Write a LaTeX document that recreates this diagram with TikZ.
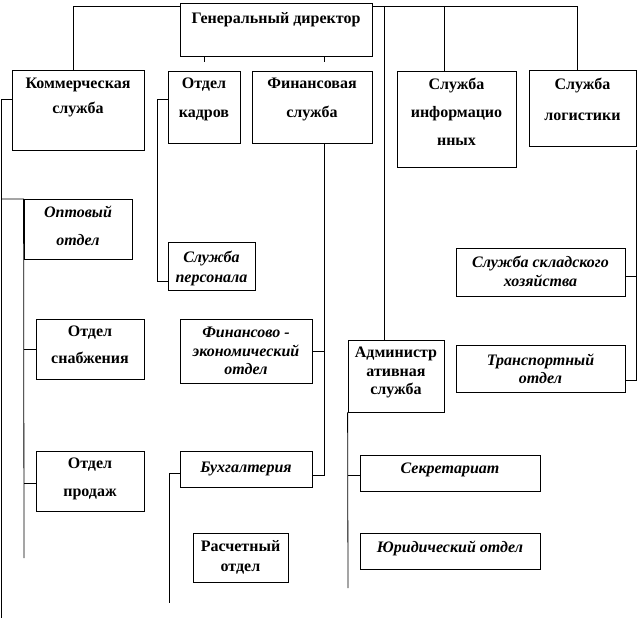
\documentclass[tikz,border=0pt]{standalone}
\usepackage{fontspec}
\setmainfont{Liberation Serif}
\begin{document}
\begin{tikzpicture}[x=1pt,y=-1pt,
  box/.style={draw, fill=white, line width=0.8pt, inner sep=0pt},
  ln/.style={line width=0.8pt},
  tb/.style={anchor=north, align=center, inner sep=0pt, font=\fontsize{16}{#1}\selectfont\bfseries},
  ti/.style={anchor=north, align=center, inner sep=0pt, font=\fontsize{16}{#1}\selectfont\bfseries\itshape}]
\useasboundingbox[fill=white] (0,0) rectangle (640,618);
% boxes
\node[box, minimum width=192pt, minimum height=53pt] (gd) at (276,29.5) {};
\node[box, minimum width=132pt, minimum height=80pt] (kom) at (78,110) {};
\node[box, minimum width=72pt, minimum height=72pt] (kad) at (204,107) {};
\node[box, minimum width=120pt, minimum height=72pt] (fin) at (312,107) {};
\node[box, minimum width=119pt, minimum height=96pt] (inf) at (456.5,119) {};
\node[box, minimum width=107pt, minimum height=76pt] (log) at (582.5,108) {};
\node[box, minimum width=108pt, minimum height=60pt] (opt) at (78,229) {};
\node[box, minimum width=87pt, minimum height=48pt] (pers) at (211.5,266) {};
\node[box, minimum width=108pt, minimum height=60pt] (snab) at (90,349) {};
\node[box, minimum width=132pt, minimum height=64pt] (fe) at (246,351) {};
\node[box, minimum width=96pt, minimum height=72pt] (adm) at (396,376) {};
\node[box, minimum width=169pt, minimum height=48pt] (sklad) at (540.5,272) {};
\node[box, minimum width=169pt, minimum height=47pt] (trans) at (540.5,368.5) {};
\node[box, minimum width=108pt, minimum height=60pt] (prod) at (90,481) {};
\node[box, minimum width=132pt, minimum height=36pt] (buh) at (246,469) {};
\node[box, minimum width=180pt, minimum height=36pt] (sec) at (450,473) {};
\node[box, minimum width=95pt, minimum height=49pt] (ras) at (240.5,557.5) {};
\node[box, minimum width=180pt, minimum height=36pt] (yur) at (450,551) {};
% texts
\node[tb=20] (gdt) at (276,12.5) {Генеральный директор};
\node[tb=25] (komt) at (78,78) {Коммерческая\\служба};
\node[tb=29] (kadt) at (204,78) {Отдел\\кадров};
\node[tb=29] (fint) at (312,78) {Финансовая\\служба};
\node[tb=28] (inft) at (456.5,78) {Служба\\информацио\\нных};
\node[tb=31] (logt) at (582.5,78) {Служба\\логистики};
\node[ti=28] (optt) at (78,206) {Оптовый\\отдел};
\node[ti=20] (perst) at (211.5,251) {Служба\\персонала};
\node[tb=27] (snabt) at (90,326) {Отдел\\снабжения};
\node[ti=18.5] (fet) at (246,327) {Финансово -\\экономический\\отдел};
\node[tb=18.5] (admt) at (396,347) {Администр\\ативная\\служба};
\node[ti=19] (skladt) at (540.5,256) {Служба складского\\хозяйства};
\node[ti=18] (transt) at (540.5,354) {Транспортный\\отдел};
\node[tb=28] (prodt) at (90,458) {Отдел\\продаж};
\node[ti=20] (buht) at (246,462) {Бухгалтерия};
\node[ti=20] (sect) at (450,463) {Секретариат};
\node[tb=20] (rast) at (240.5,540) {Расчетный\\отдел};
\node[ti=20] (yurt) at (450,541) {Юридический отдел};
% connectors
\coordinate (t1) at (73,6);
\coordinate (t2) at (384,6);
\coordinate (t3) at (444,6);
\coordinate (t4) at (577,6);
\draw[ln] (kom.north -| t1) -- (t1) -- (t1 -| gd.west);
\draw[ln] (t1 -| gd.east) -- (t4) -- (t4 |- log.north);
\draw[ln] (t3) -- (t3 |- inf.north);
\draw[ln] (t2) -- (t2 |- adm.north);
\coordinate (g1) at (204,62);
\coordinate (g2) at (324,62);
\draw[ln] (g1 |- gd.south) -- (g1);
\draw[ln] (g2 |- gd.south) -- (g2);
\coordinate (k1) at (1,99);
\coordinate (k2) at (1,618);
\draw[ln] (k1 -| kom.west) -- (k1) -- (k2);
\coordinate (o1) at (1,199);
\coordinate (o2) at (24,558);
\draw[ln] (o1) -- (o1 -| opt.west) -- (o2);
\draw[ln] (snab.west -| o2) -- (snab.west);
\coordinate (p1) at (24,483);
\draw[ln] (p1) -- (p1 -| prod.west);
\coordinate (c1) at (157,99);
\coordinate (c2) at (157,281);
\draw[ln] (c1 -| kad.west) -- (c1) -- (c2) -- (c2 -| pers.west);
\coordinate (f1) at (324,475);
\draw[ln] (f1 |- fin.south) -- (f1) -- (f1 -| buh.east);
\draw[ln] (fe.east) -- (fe.east -| f1);
\coordinate (b1) at (169,473);
\coordinate (b2) at (169,603);
\draw[ln] (b1 -| buh.west) -- (b1) -- (b2);
\coordinate (a1) at (348,588);
\draw[ln] (adm.south west) -- (a1);
\coordinate (a2) at (348,475);
\draw[ln] (a2) -- (a2 -| sec.west);
\coordinate (l0) at (636,150);
\coordinate (l1) at (636,380);
\coordinate (l2) at (636,276);
\draw[ln] (l0) -- (l1) -- (l1 -| trans.east);
\draw[ln] (l2) -- (l2 -| sklad.east);
\end{tikzpicture}
\end{document}
